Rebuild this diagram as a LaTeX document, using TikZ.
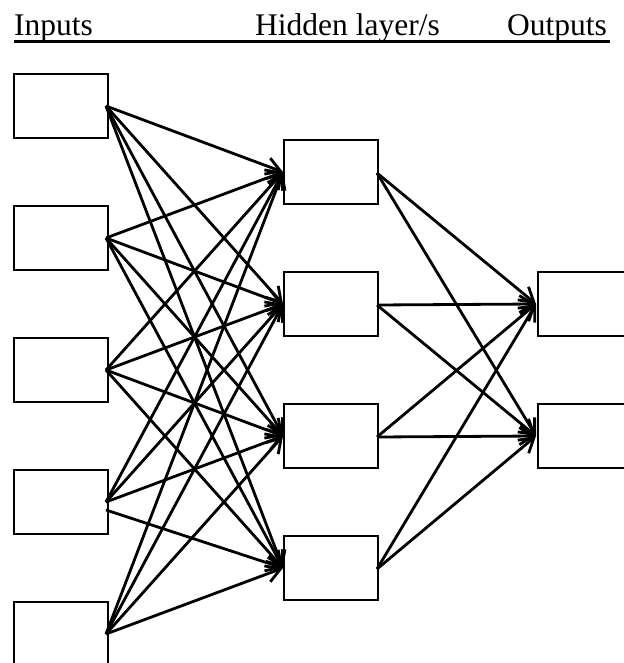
\documentclass[tikz,border=0pt]{standalone}
\usepackage{fontspec}
\setmainfont{Liberation Serif}
\usetikzlibrary{arrows.meta}
\begin{document}
\begin{tikzpicture}[x=1pt,y=-1pt,
  unit/.style={draw, line width=2.8pt, rectangle, inner sep=0pt, outer sep=0pt,
               minimum width=94pt, minimum height=64pt},
  link/.style={line width=2.8pt, -{Straight Barb[length=14pt,width=17pt,line width=2.8pt]}},
  head/.style={anchor=base west, inner sep=0pt, font=\fontsize{31.5}{36}\selectfont}]
\useasboundingbox (0,0) rectangle (623,663);

% column titles with a single underline
\node[head] (tin)  at (14,36)  {Inputs};
\node[head] (thid) at (255,36) {Hidden layer/s};
\node[head] (tout) at (507,36) {Outputs};
\draw[line width=2.8pt] (14,41.5) -- (610,41.5);

% input layer
\node[unit] (i1) at (61,106) {};
\node[unit] (i2) at (61,238) {};
\node[unit] (i3) at (61,370) {};
\node[unit] (i4) at (61,502) {};
\node[unit] (i5) at (61,634) {};

% hidden layer
\node[unit] (h1) at (331,172) {};
\node[unit] (h2) at (331,304) {};
\node[unit] (h3) at (331,436) {};
\node[unit] (h4) at (331,568) {};

% output layer
\node[unit] (o1) at (585,304) {};
\node[unit] (o2) at (585,436) {};

% inputs to hidden
\foreach \i in {1,2,3,5}{
  \foreach \h in {1,2,3,4}{
    \draw[link] ([xshift=-2pt]i\i.east) -- ([xshift=-1pt]h\h.west);
  }
}
\foreach \h in {1,2,3}{
  \draw[link] ([xshift=-2pt]i4.east) -- ([xshift=-1pt]h\h.west);
}
\draw[link] ([xshift=-2pt,yshift=-8pt]i4.east) -- ([xshift=-1pt]h4.west);

% hidden to outputs
\foreach \h in {1,2,3,4}{
  \foreach \o in {1,2}{
    \draw[link] ([xshift=-1pt,yshift=-1pt]h\h.east) -- ([xshift=-2pt]o\o.west);
  }
}
\end{tikzpicture}
\end{document}
